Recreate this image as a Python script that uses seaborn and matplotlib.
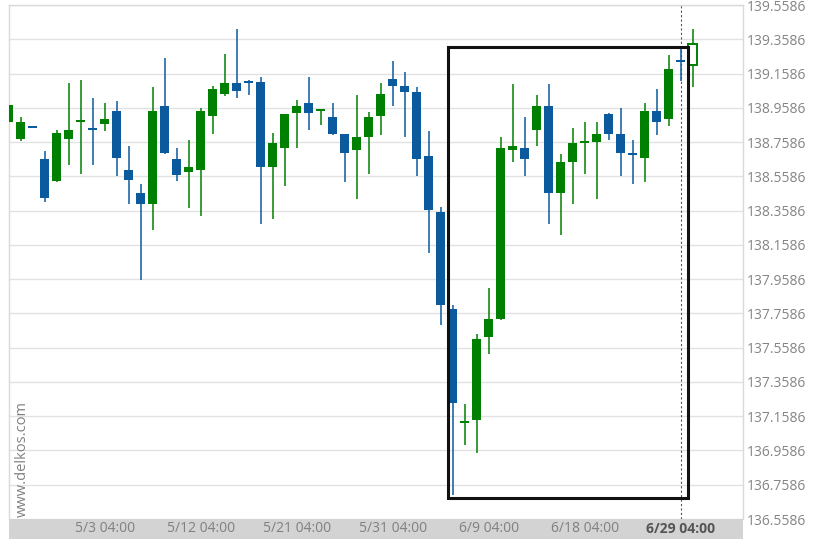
import numpy as np
import pandas as pd
import matplotlib
matplotlib.use('Agg')
import matplotlib.pyplot as plt
import seaborn as sns
from matplotlib.patches import Rectangle

# OHLC values (one candle per row)
opens = [138.877, 138.774, 138.853, 138.659, 138.531, 138.774, 138.878, 138.839, 138.862, 138.939,
         138.595, 138.459, 138.398, 138.970, 138.657, 138.581, 138.597, 138.908, 139.039, 139.101,
         139.115, 139.107, 138.614, 138.725, 138.926, 138.988, 138.940, 138.906, 138.803, 138.710,
         138.789, 138.910, 139.124, 139.085, 139.052, 138.675, 138.348, 137.787, 137.120, 137.135,
         137.618, 137.727, 138.712, 138.722, 138.828, 138.970, 138.462, 138.643, 138.754, 138.758,
         138.924, 138.803, 138.693, 138.663, 138.939, 138.893, 139.235, 139.208]
highs = [138.975, 138.906, 138.853, 138.706, 138.828, 139.101, 139.120, 139.017, 138.984, 139.000,
         138.737, 138.513, 139.081, 139.247, 138.722, 138.770, 138.955, 139.087, 139.270, 139.416,
         139.120, 139.136, 138.809, 138.925, 139.004, 139.136, 138.950, 138.984, 138.806, 139.033,
         138.935, 139.105, 139.231, 139.169, 139.081, 138.824, 138.381, 137.805, 137.227, 137.641,
         137.904, 138.786, 139.097, 138.906, 139.033, 139.097, 138.688, 138.842, 138.873, 138.873,
         138.926, 138.955, 138.770, 138.988, 139.066, 139.266, 139.300, 139.416]
lows = [138.877, 138.766, 138.843, 138.406, 138.527, 138.624, 138.575, 138.624, 138.824, 138.5586,
        138.395, 137.953, 138.248, 138.688, 138.529, 138.375, 138.328, 138.805, 139.027, 139.017,
        139.033, 138.280, 138.310, 138.503, 138.722, 138.828, 138.856, 138.799, 138.527, 138.425,
        138.575, 138.799, 138.969, 138.786, 138.5586, 138.112, 137.690, 136.697, 136.993, 136.944,
        137.519, 137.719, 138.640, 138.5586, 138.735, 138.280, 138.215, 138.395, 138.575, 138.424,
        138.770, 138.5586, 138.511, 138.527, 138.799, 138.854, 139.116, 139.078]
closes = [138.973, 138.875, 138.843, 138.430, 138.811, 138.828, 138.888, 138.829, 138.891, 138.663,
          138.535, 138.398, 138.939, 138.692, 138.566, 138.612, 138.939, 139.068, 139.101, 139.056,
          139.105, 138.614, 138.754, 138.922, 138.970, 138.926, 138.950, 138.805, 138.692, 138.786,
          138.906, 139.037, 139.085, 139.052, 138.661, 138.365, 137.805, 137.233, 137.130, 137.612,
          137.723, 138.722, 138.737, 138.661, 138.970, 138.462, 138.640, 138.754, 138.764, 138.803,
          138.805, 138.692, 138.683, 138.939, 138.877, 139.186, 139.225, 139.331]

date_ticks = [8, 16, 24, 32, 40, 48, 56]
date_labels = ['5/3 04:00', '5/12 04:00', '5/21 04:00', '5/31 04:00', '6/9 04:00', '6/18 04:00', '6/29 04:00']
price_ticks = [136.5586, 136.7586, 136.9586, 137.1586, 137.3586, 137.5586, 137.7586, 137.9586,
               138.1586, 138.3586, 138.5586, 138.7586, 138.9586, 139.1586, 139.3586, 139.5586]
box_start, box_end = 37, 56

df = pd.DataFrame({'Open': opens, 'High': highs, 'Low': lows, 'Close': closes})
df['x'] = np.arange(len(df))
df['up'] = df['Close'] >= df['Open']

sns.set_theme(style='white')
plt.rcParams['font.family'] = ['Open Sans', 'DejaVu Sans']

green = '#008000'
blue = '#0b5a9e'

fig = plt.figure(figsize=(8.22, 5.48), dpi=100)
ax = fig.add_axes([9/822, 29/548, 734/822, 514/548])

# grid
ax.set_xticks(date_ticks[:-1])
ax.set_yticks(price_ticks)
ax.grid(True, color='#e2e2e2', linewidth=1)
ax.set_axisbelow(True)

# candles
colors = np.where(df['up'], green, blue)
ax.vlines(df['x'], df['Low'], df['High'], colors=colors, linewidth=1.1, zorder=2)
body_h = (df['Close'] - df['Open']).abs().clip(lower=0.009)
body_b = df[['Open', 'Close']].min(axis=1)
body_b = np.where((df['Close'] - df['Open']).abs() < 0.009, (df['Open'] + df['Close']) / 2 - 0.0045, body_b)
last = len(df) - 1
face = list(colors)
face[last] = 'white'
ax.bar(df['x'], body_h, bottom=body_b, width=0.75, color=face,
       edgecolor=[c if i == last else 'none' for i, c in enumerate(colors)],
       linewidth=1.4, zorder=3)

# current candle marker line
ax.axvline(date_ticks[-1], color='#555555', linewidth=0.8, linestyle=(0, (2, 2)), zorder=1)

# pattern box
sub = df.iloc[box_start:box_end + 1]
y0 = sub['Low'].min() - 0.013
y1 = sub['High'].max() + 0.012
ax.add_patch(Rectangle((box_start - 0.45, y0), (box_end - box_start) + 1.0, y1 - y0,
                       fill=False, edgecolor='#111111', linewidth=2.2, zorder=5))

ax.set_xlim(0, 61.17)
ax.set_ylim(136.5586, 139.5586)
ax.yaxis.tick_right()
ax.set_yticklabels([f'{v:.4f}' for v in price_ticks])
ax.tick_params(axis='y', length=0, pad=2.5, labelsize=10, labelcolor='#858585')
ax.tick_params(axis='x', length=0, labelbottom=False)
for s in ['left', 'top', 'right']:
    ax.spines[s].set_color('#d9d9d9')
    ax.spines[s].set_linewidth(1)
ax.spines['bottom'].set_visible(False)

ax.text(0.0177, 0.003, 'www.delkos.com', transform=ax.transAxes, rotation=90,
        ha='center', va='bottom', color='#808080', fontsize=10.5)

# date band
band = fig.add_axes([9/822, 9/548, 734/822, 20/548], sharex=ax)
band.set_facecolor('#d3d3d3')
band.set_xticks([])
band.set_yticks([])
for s in band.spines.values():
    s.set_visible(False)
for i, (t, lab) in enumerate(zip(date_ticks, date_labels)):
    is_last = i == len(date_ticks) - 1
    band.text(t, 0.5, lab, transform=band.get_xaxis_transform(), ha='center', va='center',
              fontsize=10, color='#555555' if is_last else '#808080',
              fontweight='bold' if is_last else 'normal')

fig.savefig('out.png', dpi=100)
